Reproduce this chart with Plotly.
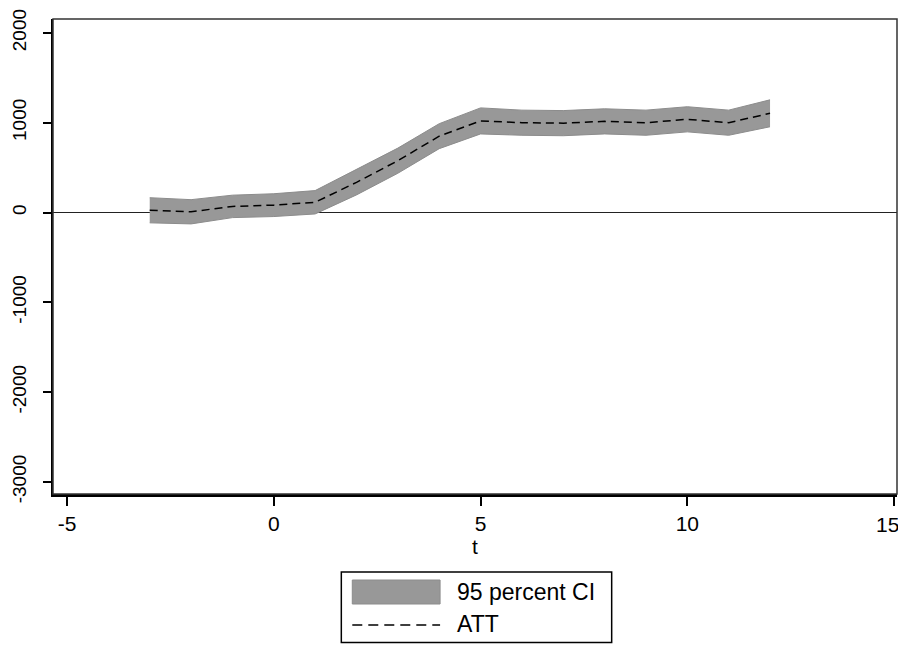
import plotly.graph_objects as go

# ---- data ----
t = [-3, -2, -1, 0, 1, 2, 3, 4, 5, 6, 7, 8, 9, 10, 11, 12]
att = [25, 8, 68, 82, 114, 336, 577, 850, 1020, 1000, 995, 1015, 1000, 1038, 1000, 1105]
ci_hi = [165, 143, 193, 209, 244, 476, 717, 989, 1165, 1140, 1135, 1155, 1140, 1178, 1140, 1255]
ci_lo = [-115, -127, -57, -45, -16, 196, 437, 711, 875, 860, 855, 875, 860, 898, 860, 955]
x_ticks = [-5, 0, 5, 10, 15]
y_ticks = [-3000, -2000, -1000, 0, 1000, 2000]
legend_labels = ["95 percent CI", "ATT"]
x_title = "t"

FONT = "Liberation Sans, Arial, sans-serif"
BAND = "rgb(152,152,152)"
BAND_EDGE = "rgb(140,140,140)"

# the page body adds an 8px margin; size the figure so the page does not overflow
OFF = 8
W_FIG, H_FIG = 906 - 2 * OFF, 652 - 2 * OFF
# plot area in page pixels
P_L, P_R, P_T, P_B = 51, 897, 19, 494
L, R, T, B = P_L - OFF, P_R - OFF, P_T - OFF, P_B - OFF
PW, PH = R - L, B - T


def px(xp):
    return (xp - OFF - L) / PW


def py(yp):
    return (B - (yp - OFF)) / PH


fig = go.Figure()
fig.add_trace(go.Scatter(x=t, y=ci_lo, mode="lines", line=dict(color=BAND_EDGE, width=1),
                         showlegend=False, hoverinfo="skip"))
fig.add_trace(go.Scatter(x=t, y=ci_hi, mode="lines", line=dict(color=BAND_EDGE, width=1),
                         fill="tonexty", fillcolor=BAND, name=legend_labels[0], showlegend=False))
fig.add_trace(go.Scatter(x=t, y=att, mode="lines", line=dict(color="black", width=1.5, dash="8px,5px"),
                         name=legend_labels[1], showlegend=False))

shapes = [
    # plot frame
    dict(type="rect", xref="paper", yref="paper", x0=0, x1=1, y0=0, y1=1,
         line=dict(color="#333", width=1.5), layer="above"),
    # legend box
    dict(type="rect", xref="paper", yref="paper", x0=px(340), x1=px(611), y0=py(642.5), y1=py(572),
         line=dict(color="black", width=1.5), fillcolor="white"),
    # legend swatch
    dict(type="rect", xref="paper", yref="paper", x0=px(351), x1=px(439), y0=py(604), y1=py(580),
         line=dict(color=BAND_EDGE, width=1), fillcolor=BAND),
    # legend dashed line
    dict(type="line", xref="paper", yref="paper", x0=px(351), x1=px(439), y0=py(625), y1=py(625),
         line=dict(color="black", width=1.5, dash="10px,6px")),
]

annotations = [
    dict(text=legend_labels[0], xref="paper", yref="paper", x=px(454), y=py(592),
         xanchor="left", yanchor="middle", showarrow=False, font=dict(family=FONT, size=23, color="black")),
    dict(text=legend_labels[1], xref="paper", yref="paper", x=px(454), y=py(624),
         xanchor="left", yanchor="middle", showarrow=False, font=dict(family=FONT, size=23, color="black")),
    # last x tick label, nudged left so it stays inside the page
    dict(text=str(x_ticks[-1]), xref="x", yref="paper", x=x_ticks[-1], xshift=-7, y=py(524),
         xanchor="center", yanchor="middle", showarrow=False, font=dict(family=FONT, size=21, color="black")),
]

x_lo = -5.339
x_hi = 15.07

fig.update_layout(
    width=W_FIG, height=H_FIG, autosize=False,
    margin=dict(l=L, r=W_FIG - R, t=T, b=H_FIG - B, pad=0),
    paper_bgcolor="white", plot_bgcolor="white",
    font=dict(family=FONT, size=20, color="black"),
    showlegend=False,
    shapes=shapes, annotations=annotations,
    xaxis=dict(range=[x_lo, x_hi], tickvals=x_ticks,
               ticktext=[str(v) for v in x_ticks[:-1]] + [""],
               ticks="outside", ticklen=9, tickwidth=1.5, tickcolor="black",
               showline=True, linewidth=3, linecolor="black", mirror=False,
               showgrid=False, zeroline=False, ticklabeloverflow="allow",
               tickfont=dict(family=FONT, size=21, color="black"),
               title=dict(text=x_title, font=dict(family=FONT, size=21, color="black"), standoff=2)),
    yaxis=dict(range=[-3135, 2155], tickvals=y_ticks, ticktext=[str(v) for v in y_ticks],
               tickangle=-90, ticks="outside", ticklen=8, tickwidth=1.5, tickcolor="black",
               showline=True, linewidth=2, linecolor="black", ticklabelstandoff=9,
               showgrid=False, zeroline=True, zerolinecolor="#222", zerolinewidth=1,
               ticklabeloverflow="allow",
               tickfont=dict(family=FONT, size=19, color="black")),
)

fig.write_html("out.html")
